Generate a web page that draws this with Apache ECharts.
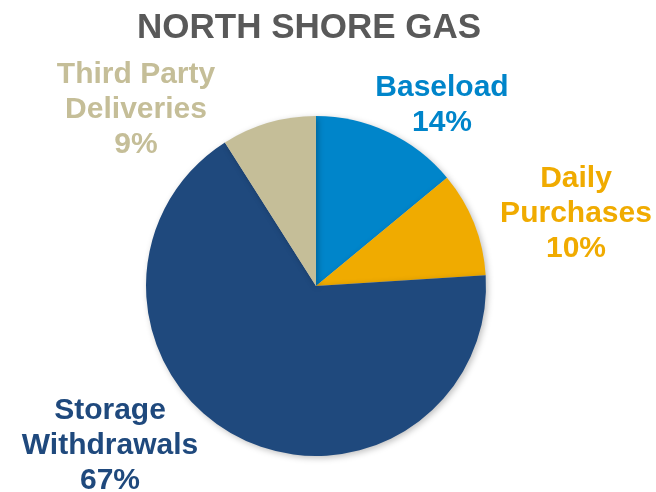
<!DOCTYPE html>
<html>
<head>
<meta charset="utf-8">
<script src="https://cdn.jsdelivr.net/npm/echarts@6/dist/echarts.min.js"></script>
<style>
  html, body { margin: 0; padding: 0; background: #fff; }
  #chart { width: 656px; height: 492px; }
</style>
</head>
<body>
<div id="chart"></div>
<script>
// slices, clockwise from 12 o'clock
const categories = ['Baseload', 'Daily\nPurchases', 'Storage\nWithdrawals', 'Third Party\nDeliveries']
const shares = [14, 10, 67, 9]
const colors = ['#0085CA', '#F0AB00', '#1F497D', '#C5BE98']
// where each label block sits (center of text block)
const labelSpots = [[442, 105], [576, 214], [110, 446], [136, 110]]

const chart = echarts.init(document.getElementById('chart'))

const option = {
  backgroundColor: '#ffffff',
  title: {
    text: 'NORTH SHORE GAS',
    left: 132,
    top: 6,
    textStyle: {
      fontFamily: 'Liberation Sans, Arial, sans-serif',
      fontSize: 35,
      fontWeight: 'bold',
      color: '#595959'
    }
  },
  series: [
    {
      type: 'pie',
      center: [316, 286],
      radius: 170,
      startAngle: 90,
      clockwise: true,
      animation: false,
      data: categories.map((name, i) => ({
        name,
        value: shares[i],
        itemStyle: { color: colors[i] },
        label: { color: colors[i] }
      })),
      itemStyle: {
        shadowBlur: 6,
        shadowColor: 'rgba(0,0,0,0.25)',
        shadowOffsetX: 2,
        shadowOffsetY: 2
      },
      label: {
        show: true,
        position: 'outside',
        formatter: p => p.name + '\n' + p.value + '%',
        fontFamily: 'Liberation Sans, Arial, sans-serif',
        fontSize: 30,
        fontWeight: 'bold',
        lineHeight: 35,
        align: 'center',
        overflow: 'none'
      },
      labelLine: { show: false },
      labelLayout: params => ({
        x: labelSpots[params.dataIndex][0],
        y: labelSpots[params.dataIndex][1],
        align: 'center',
        verticalAlign: 'middle'
      })
    }
  ]
}

chart.setOption(option)
</script>
</body>
</html>
